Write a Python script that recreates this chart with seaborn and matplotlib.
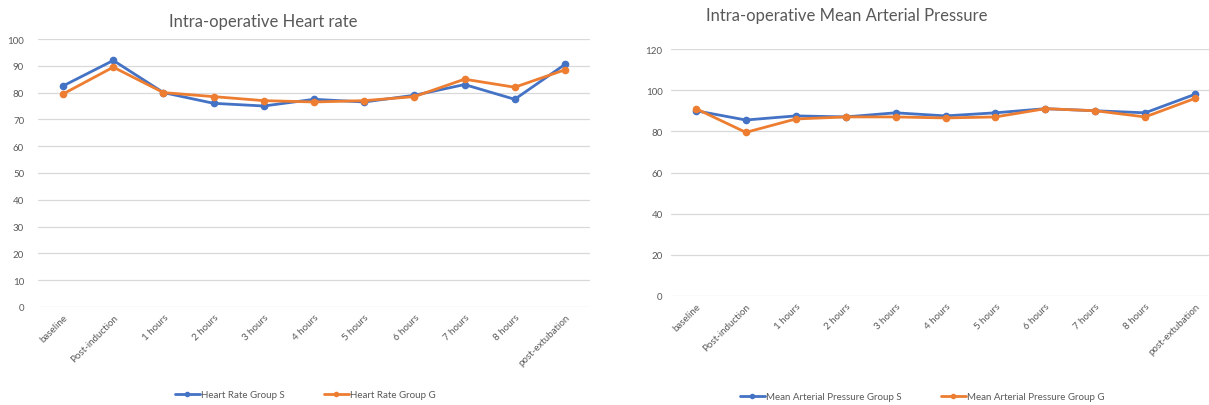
import matplotlib
matplotlib.use("Agg")
import matplotlib.pyplot as plt
import seaborn as sns
import pandas as pd

# Time points of the intra-operative record
time_points = ["baseline", "Post-induction", "1 hours", "2 hours", "3 hours",
               "4 hours", "5 hours", "6 hours", "7 hours", "8 hours",
               "post-extubation"]

# Heart rate (beats/min)
hr_group_s = [82.5, 92, 80, 76, 75, 77.5, 76.5, 79, 83, 77.5, 90.5]
hr_group_g = [79.5, 89.5, 80, 78.5, 77, 76.5, 77, 78.5, 85, 82, 88.5]

# Mean arterial pressure (mmHg)
map_group_s = [90, 85.5, 87.5, 87, 89, 87.5, 89, 91, 90, 89, 98]
map_group_g = [91, 79.5, 86, 87, 87, 86.5, 87, 91, 90, 87, 96]

hr_ticks = list(range(0, 101, 10))
map_ticks = list(range(0, 121, 20))

BLUE = "#4472C4"
ORANGE = "#ED7D31"
GREY_TEXT = "#595959"
GRID = "#D9D9D9"

sns.set_theme(style="white")
plt.rcParams["font.family"] = ["Lato", "DejaVu Sans"]


def long_frame(s_vals, g_vals, s_name, g_name):
    return pd.DataFrame({
        "time": time_points * 2,
        "value": s_vals + g_vals,
        "series": [s_name] * len(s_vals) + [g_name] * len(g_vals),
    })


def draw(ax, df, ticks, legend_xy, ypad, colspace):
    sns.lineplot(data=df, x="time", y="value", hue="series",
                 palette=[BLUE, ORANGE], marker="o", markersize=5.5,
                 markeredgewidth=0, linewidth=2, sort=False, ax=ax,
                 legend=False)
    ax.set_xlim(-0.5, len(time_points) - 0.5)
    ax.set_ylim(ticks[0], ticks[-1])
    ax.set_yticks(ticks)
    ax.set_xticks(range(len(time_points)))
    ax.set_xticklabels(time_points, rotation=45, ha="right",
                       rotation_mode="anchor", fontsize=7, color=GREY_TEXT)
    ax.tick_params(axis="y", labelsize=7, colors=GREY_TEXT, length=0, pad=ypad)
    ax.tick_params(axis="x", length=0, pad=4)
    ax.yaxis.grid(True, color=GRID, linewidth=0.9)
    ax.set_axisbelow(True)
    for side in ax.spines.values():
        side.set_visible(False)
    ax.set_xlabel("")
    ax.set_ylabel("")
    handles = [plt.Line2D([], [], color=c, marker="o", markersize=4,
                          linewidth=2, markeredgewidth=0)
               for c in (BLUE, ORANGE)]
    labels = list(df["series"].unique())
    fig.legend(handles, labels, loc="center",
               bbox_to_anchor=(legend_xy[0] / 1209, 1 - legend_xy[1] / 406),
               ncol=2, frameon=False, fontsize=7, handlelength=2.6,
               handletextpad=0.1, columnspacing=colspace,
               labelcolor=GREY_TEXT)


fig = plt.figure(figsize=(12.09, 4.06), dpi=100)
ax1 = fig.add_axes([38 / 1209, 1 - 308 / 406, 552 / 1209, 268 / 406])
ax2 = fig.add_axes([671 / 1209, 1 - 297 / 406, 549 / 1209, 247 / 406])

draw(ax1, long_frame(hr_group_s, hr_group_g,
                     "Heart Rate Group S", "Heart Rate Group G"),
     hr_ticks, (305, 396), 10, 4.0)
draw(ax2, long_frame(map_group_s, map_group_g,
                     "Mean Arterial Pressure Group S",
                     "Mean Arterial Pressure Group G"),
     map_ticks, (922, 398), 6, 4.0)

fig.text(263 / 1209, 1 - 22 / 406, "Intra-operative Heart rate",
         ha="center", va="center", fontsize=12, color=GREY_TEXT)
fig.text(847 / 1209, 1 - 16 / 406, "Intra-operative Mean Arterial Pressure",
         ha="center", va="center", fontsize=12, color=GREY_TEXT)

fig.savefig("out.png", dpi=100, facecolor="white")
